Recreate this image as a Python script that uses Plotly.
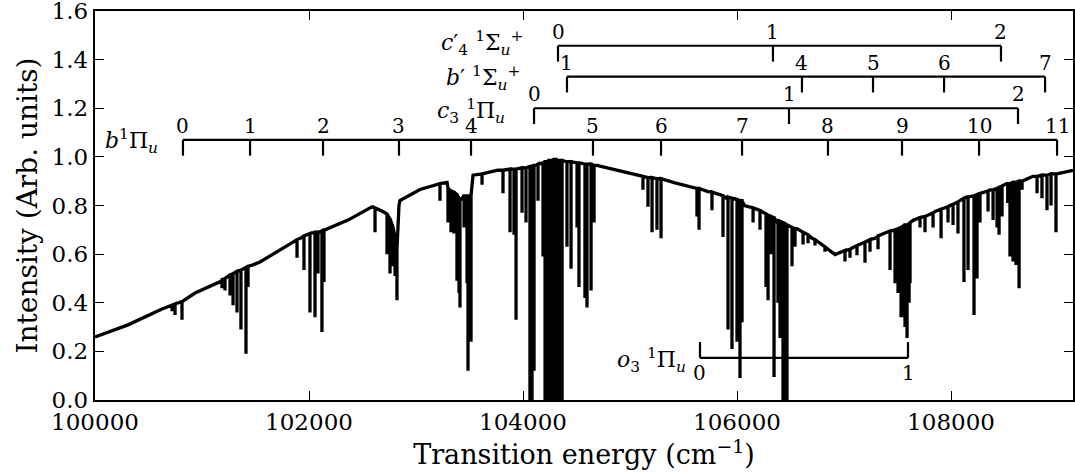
import plotly.graph_objects as go

# ---------------- data ----------------
# continuum (upper envelope) anchor points: energy (cm^-1), intensity
cont_x = [100000, 100309, 100626, 100935, 101187, 101470, 101542, 101804, 101920,
          102150, 102364, 102589, 102690, 102841, 102850, 103037, 103200, 103290,
          103533, 103766, 104120, 104285, 104533, 104690, 104860, 105100, 105421,
          105729, 105900, 106070, 106234, 106370, 106560, 106701, 106916, 107075,
          107290, 107400, 107650, 107850, 107991, 108150, 108364, 108520, 108766,
          108990, 109140]
cont_y = [0.259, 0.309, 0.374, 0.440, 0.490, 0.555, 0.568, 0.637, 0.665,
          0.700, 0.740, 0.795, 0.775, 0.800, 0.820, 0.866, 0.885, 0.895,
          0.925, 0.945, 0.965, 0.987, 0.975, 0.965, 0.946, 0.920, 0.893,
          0.857, 0.830, 0.800, 0.775, 0.735, 0.705, 0.665, 0.598, 0.625,
          0.665, 0.690, 0.740, 0.775, 0.800, 0.835, 0.864, 0.890, 0.920,
          0.930, 0.945]

# absorption lines: position, local top, minimum intensity
line_x = [100720, 100748, 100813, 101187, 101215, 101262, 101290, 101327, 101364, 101411, 101430,
          101888, 101953, 102009, 102056, 102084, 102121, 102140,
          102617, 102729, 102757, 102785, 102804, 102822,
          103224, 103299, 103327, 103355, 103383, 103402, 103411, 103449, 103477, 103486, 103514,
          103617, 103813, 103879, 103916, 103935, 103991, 104028, 104065, 104084, 104103, 104140,
          104187, 104206, 104224, 104243, 104262, 104290, 104308, 104327, 104346, 104365,
          104411, 104449, 104505, 104523, 104579, 104598, 104636, 104664,
          105121, 105168, 105206, 105252, 105290, 105626, 105645, 105766, 105869,
          105916, 105953, 106000, 106028, 106047,
          106150, 106215, 106271, 106290, 106318, 106346, 106383, 106402, 106430, 106449, 106467,
          106514, 106542, 106617, 106664, 106729, 106822,
          107009, 107056, 107121, 107196, 107243, 107318,
          107430, 107477, 107505, 107533, 107551, 107570, 107589, 107608, 107617,
          107710, 107757, 107832, 107907, 107972, 108019, 108065, 108121, 108159, 108215, 108243,
          108271, 108346, 108393, 108430, 108449, 108477, 108530, 108551, 108579, 108607, 108636,
          108664, 108804, 108850, 108897, 108935, 108981]
line_top = [0.39, 0.395, 0.405, 0.495, 0.50, 0.515, 0.52, 0.53, 0.535, 0.545, 0.55,
            0.66, 0.675, 0.685, 0.69, 0.69, 0.695, 0.70,
            0.79, 0.765, 0.745, 0.71, 0.67, 0.62,
            0.89, 0.87, 0.86, 0.855, 0.845, 0.83, 0.82, 0.84, 0.84, 0.84, 0.84,
            0.93, 0.945, 0.95, 0.95, 0.95, 0.955, 0.955, 0.96, 0.96, 0.965, 0.97,
            0.975, 0.98, 0.98, 0.985, 0.985, 0.99, 0.99, 0.985, 0.985, 0.985,
            0.98, 0.98, 0.975, 0.975, 0.97, 0.97, 0.97, 0.965,
            0.92, 0.915, 0.915, 0.91, 0.91, 0.87, 0.87, 0.855, 0.84,
            0.835, 0.83, 0.825, 0.82, 0.82,
            0.79, 0.78, 0.765, 0.76, 0.755, 0.75, 0.74, 0.735, 0.73, 0.725, 0.72,
            0.71, 0.705, 0.69, 0.68, 0.66, 0.63,
            0.615, 0.62, 0.635, 0.65, 0.66, 0.675,
            0.695, 0.70, 0.705, 0.71, 0.715, 0.72, 0.72, 0.725, 0.73,
            0.75, 0.755, 0.77, 0.785, 0.795, 0.805, 0.815, 0.83, 0.835, 0.84, 0.845,
            0.85, 0.86, 0.865, 0.87, 0.875, 0.88, 0.89, 0.89, 0.895, 0.895, 0.90,
            0.90, 0.92, 0.925, 0.925, 0.93, 0.93]
line_min = [0.365, 0.35, 0.33, 0.46, 0.45, 0.43, 0.39, 0.36, 0.29, 0.19, 0.465,
            0.585, 0.535, 0.36, 0.34, 0.52, 0.28, 0.485,
            0.69, 0.60, 0.52, 0.55, 0.51, 0.41,
            0.82, 0.73, 0.69, 0.685, 0.49, 0.44, 0.38, 0.71, 0.48, 0.12, 0.24,
            0.885, 0.85, 0.69, 0.68, 0.33, 0.77, 0.73, 0.0, 0.0, 0.12, 0.82,
            0.59, 0.0, 0.0, 0.0, 0.0, 0.0, 0.0, 0.0, 0.0, 0.0,
            0.63, 0.54, 0.71, 0.465, 0.42, 0.38, 0.45, 0.73,
            0.865, 0.795, 0.69, 0.70, 0.665, 0.755, 0.70, 0.78, 0.67,
            0.29, 0.21, 0.24, 0.09, 0.32,
            0.73, 0.70, 0.465, 0.41, 0.60, 0.095, 0.40, 0.255, 0.0, 0.0, 0.0,
            0.55, 0.63, 0.64, 0.645, 0.635, 0.61,
            0.57, 0.585, 0.595, 0.565, 0.61, 0.62,
            0.535, 0.48, 0.44, 0.34, 0.34, 0.30, 0.255, 0.40, 0.48,
            0.71, 0.69, 0.71, 0.665, 0.73, 0.72, 0.685, 0.485, 0.535, 0.35, 0.50,
            0.73, 0.775, 0.74, 0.71, 0.68, 0.755, 0.81, 0.59, 0.57, 0.555, 0.46,
            0.865, 0.85, 0.83, 0.78, 0.80, 0.69]

# vibrational progressions (band origins, cm^-1) and their labels
b_pos = [100822, 101449, 102131, 102841, 103514, 104654, 105290, 106047, 106850, 107542, 108262, 108991]
b_lab = ["0", "1", "2", "3", "4", "5", "6", "7", "8", "9", "10", "11"]
c3_pos = [104103, 106486, 108626]
c3_lab = ["0", "1", "2"]
bp_pos = [104411, 106607, 107271, 107935, 108879]
bp_lab = ["1", "4", "5", "6", "7"]
c4p_pos = [104327, 106336, 108467]
c4p_lab = ["0", "1", "2"]
o3_pos = [105654, 107598]
o3_lab = ["0", "1"]

x_ticks = [100000, 102000, 104000, 106000, 108000]
y_ticks = [0.0, 0.2, 0.4, 0.6, 0.8, 1.0, 1.2, 1.4, 1.6]

# ---------------- build spectrum trace ----------------
pts = [(x, y) for x, y in zip(cont_x, cont_y)]
for x, t, m in zip(line_x, line_top, line_min):
    pts += [(x, t), (x, m), (x, t)]
pts = sorted(pts, key=lambda p: p[0])
spec_x = [p[0] for p in pts]
spec_y = [p[1] for p in pts]

FONT = "DejaVu Serif"
fig = go.Figure()
fig.add_trace(go.Scatter(x=spec_x, y=spec_y, mode="lines",
                         line=dict(color="black", width=3.3), hoverinfo="skip",
                         showlegend=False))

annotations = []


def ladder(pos, labs, y0, dy, name, name_x, name_y, below=False):
    xs, ys = [pos[0], pos[-1], None], [y0, y0, None]
    for p in pos:
        xs += [p, p, None]
        ys += [y0, y0 + dy, None]
    fig.add_trace(go.Scatter(x=xs, y=ys, mode="lines",
                             line=dict(color="black", width=2.2),
                             hoverinfo="skip", showlegend=False))
    for p, l in zip(pos, labs):
        annotations.append(dict(x=p, y=y0, text=l, showarrow=False,
                                xanchor="center",
                                yanchor="top" if below else "bottom",
                                yshift=-1 if below else 0,
                                font=dict(family=FONT, size=20, color="black")))
    annotations.append(dict(x=name_x, y=name_y, text=name, showarrow=False,
                            xanchor="right", yanchor="middle",
                            font=dict(family=FONT, size=22, color="black")))


ladder(b_pos, b_lab, 1.07, -0.065, "<i>b</i><sup>1</sup>Π<sub><i>u</i></sub>", 100607, 1.065)
ladder(c3_pos, c3_lab, 1.20, -0.065, "<i>c</i><sub>3</sub> <sup>1</sup>Π<sub><i>u</i></sub>", 103850, 1.19)
ladder(bp_pos, bp_lab, 1.33, -0.065, "<i>b</i>′ <sup>1</sup>Σ<sub><i>u</i></sub><sup>+</sup>", 103990, 1.325)
ladder(c4p_pos, c4p_lab, 1.457, -0.065, "<i>c</i>′<sub>4</sub> <sup>1</sup>Σ<sub><i>u</i></sub><sup>+</sup>", 104020, 1.47)
ladder(o3_pos, o3_lab, 0.173, 0.065, "<i>o</i><sub>3</sub> <sup>1</sup>Π<sub><i>u</i></sub>", 105545, 0.165, below=True)

axis_common = dict(showline=True, linecolor="black", linewidth=2.4, mirror="ticks",
                   ticks="inside", ticklen=9, tickwidth=1.3, tickcolor="black",
                   showgrid=False, zeroline=False, automargin=False,
                   ticklabeloverflow="allow",
                   tickfont=dict(family=FONT, size=23, color="black"))

fig.update_layout(
    width=1075, height=475,
    margin=dict(l=95, r=2, t=11, b=75),
    paper_bgcolor="white", plot_bgcolor="white",
    font=dict(family=FONT, size=22, color="black"),
    xaxis=dict(range=[100000, 109140], tickvals=x_ticks,
               ticktext=[str(v) for v in x_ticks],
               title=dict(text="Transition energy (cm<sup>−1</sup>)",
                          font=dict(family=FONT, size=27), standoff=5),
               **axis_common),
    yaxis=dict(range=[0, 1.60001], tickvals=y_ticks,
               ticktext=["%.1f" % v for v in y_ticks],
               title=dict(text="Intensity (Arb. units)",
                          font=dict(family=FONT, size=28), standoff=6),
               **axis_common),
    annotations=annotations,
)

fig.write_html("out.html", config={"displayModeBar": False},
               post_script="document.body.style.margin='0';"
                           "document.body.style.overflow='hidden';")
